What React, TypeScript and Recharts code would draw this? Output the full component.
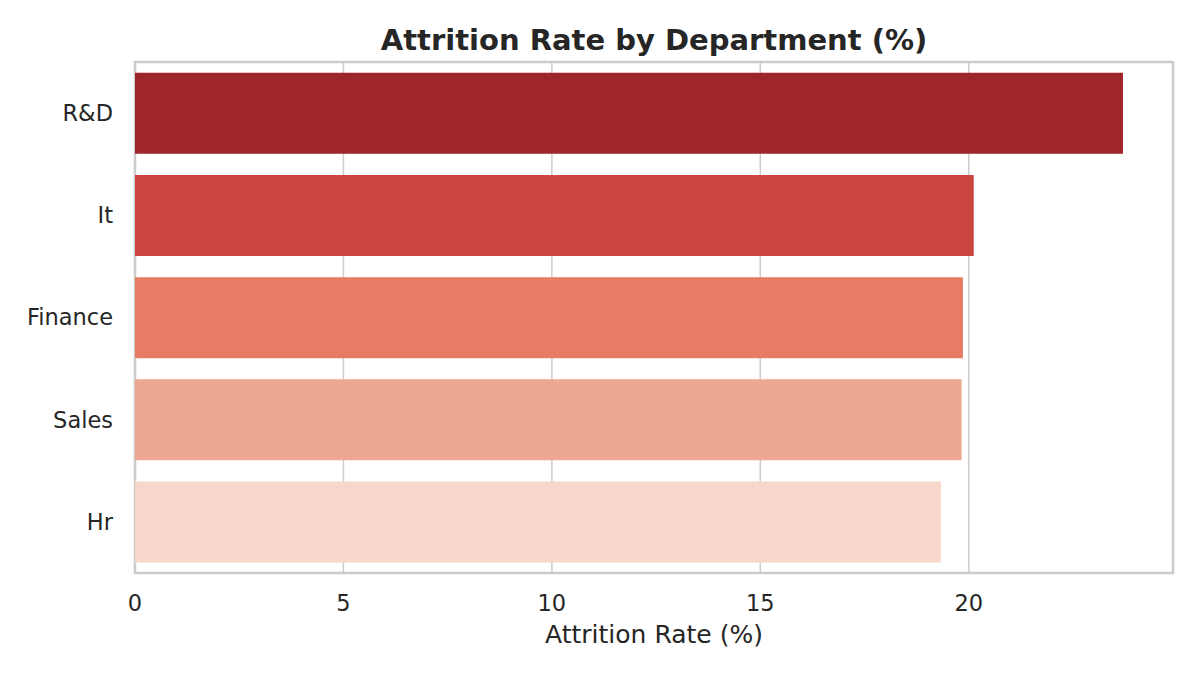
import { BarChart, Bar, Cell, XAxis, YAxis, CartesianGrid, usePlotArea } from "recharts";

const departments = ["R&D", "It", "Finance", "Sales", "Hr"];
const attritionRates = [23.7, 20.12, 19.86, 19.83, 19.33];
const barColors = ["#9e2529", "#cb4541", "#e87b64", "#eda892", "#f6d7ca"];
const xTicks = [0, 5, 10, 15, 20];

const data = departments.map((d, i) => ({ department: d, rate: attritionRates[i] }));

const font = "'DejaVu Sans', sans-serif";
const textColor = "#262626";

// axes frame + title, centred on the plot area like matplotlib does
function FrameAndTitle() {
  const area = usePlotArea();
  if (!area) return null;
  return (
    <g>
      <rect
        x={area.x}
        y={area.y}
        width={area.width}
        height={area.height}
        fill="none"
        stroke="#cccccc"
        strokeWidth={2.5}
      />
      <text
        x={area.x + area.width / 2}
        y={50}
        textAnchor="middle"
        fontSize={29}
        fontWeight="bold"
        fontFamily={font}
        fill={textColor}
      >
        Attrition Rate by Department (%)
      </text>
    </g>
  );
}

export default function App() {
  return (
    <div style={{ margin: -8, width: 1200, height: 675, background: "#fff", fontFamily: font }}>
      <BarChart
        width={1200}
        height={675}
        data={data}
        layout="vertical"
        barCategoryGap="10.5%"
        margin={{ top: 62, right: 27, bottom: 32, left: 0 }}
      >
        <CartesianGrid horizontal={false} stroke="#cccccc" strokeWidth={1.5} />
        <XAxis
          type="number"
          domain={[0, 24.9]}
          ticks={xTicks}
          height={70}
          axisLine={false}
          tickLine={false}
          tickSize={0}
          tickMargin={22}
          tick={{ fontSize: 22.5, fill: textColor, fontFamily: font }}
          label={{
            value: "Attrition Rate (%)",
            position: "insideBottom",
            offset: 0,
            fontSize: 25,
            fill: textColor,
            fontFamily: font,
          }}
        />
        <YAxis
          type="category"
          dataKey="department"
          width={135}
          axisLine={false}
          tickLine={false}
          tickSize={0}
          tickMargin={22}
          tick={{ fontSize: 22.5, fill: textColor, fontFamily: font }}
        />
        <Bar dataKey="rate" isAnimationActive={false}>
          {data.map((d, i) => (
            <Cell key={d.department} fill={barColors[i]} />
          ))}
        </Bar>
        <FrameAndTitle />
      </BarChart>
    </div>
  );
}
